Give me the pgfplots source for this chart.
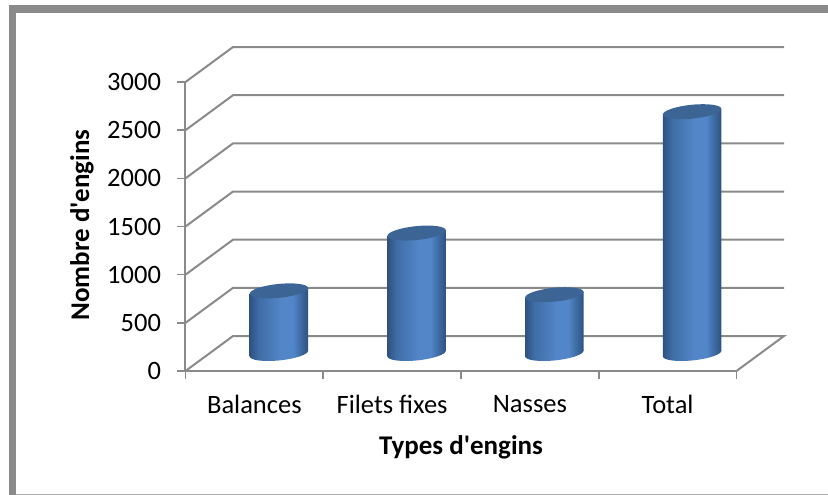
\documentclass[border=0pt]{standalone}
\usepackage{fontspec}
\setmainfont{Carlito}[Ligatures=TeXOff]
\usepackage{pgfplots}
\pgfplotsset{compat=1.18}
\definecolor{gridc}{HTML}{8A8A8A}
\definecolor{capc}{HTML}{3C6596}
\definecolor{cd}{HTML}{2E5280}
\definecolor{cm}{HTML}{5386C8}
\definecolor{cq}{HTML}{3F6DA6}
\pgfdeclarehorizontalshading{cyl}{100bp}{color(0bp)=(cd); color(25bp)=(cd); color(33bp)=(cq); color(52bp)=(cm); color(62bp)=(cm); color(68bp)=(cq); color(75bp)=(cd); color(100bp)=(cd)}
\pgfdeclareplotmark{cyltop}{\pgfpathellipse{\pgfpointorigin}{\pgfqpoint{29.2pt}{2.95pt}}{\pgfqpoint{-0.68pt}{6.9pt}}\pgfsetfillcolor{capc}\pgfusepathqfill}
\pgfdeclareplotmark{cylbot}{\pgfpathellipse{\pgfpointorigin}{\pgfqpoint{29.2pt}{2.95pt}}{\pgfqpoint{-0.68pt}{6.9pt}}\pgfshadepath{cyl}{0}\pgfusepath{discard}}
\tikzset{barshift/.style={shift={(24.5pt,{17.5pt-0.101*#1pt})},yslant=0.101}}
\begin{document}
\begin{tikzpicture}
\useasboundingbox (-185.5pt,-124pt) rectangle (642.5pt,371pt);
\fill[gridc] (-176.5pt,-124pt) rectangle (-169pt,365.5pt);
\fill[gridc] (-176.5pt,358pt) rectangle (642.5pt,365.5pt);
\draw[gridc!70,line width=0.8pt] (-169pt,-123pt) -- (642.5pt,-123pt);
\begin{axis}[
  at={(0pt,0pt)},anchor=south west,
  scale only axis,width=551pt,height=289pt,
  xmin=0,xmax=4,ymin=0,ymax=3000,
  clip=false,
  axis lines=left,
  axis line style={gridc,line width=2pt,-},
  xtick={0,1,2,3,4},
  x tick label as interval,
  xticklabels={Balances,Filets fixes,Nasses,Total},
  ytick={0,500,1000,1500,2000,2500,3000},
  tick align=outside,
  tick style={gridc,line width=1.6pt},
  major tick length=8pt,
  /pgf/number format/assume math mode=true,
  /pgf/number format/set thousands separator={},
  tick label style={font=\fontsize{26.5}{28}\selectfont,black},
  yticklabel style={xshift=-13pt},
  xticklabel style={yshift=-13pt},
  label style={font=\fontsize{27}{29}\selectfont\bfseries,black},
  xlabel={Types d'engins},
  ylabel={Nombre d'engins},
  xlabel style={at={(axis description cs:0.5,-0.263)},anchor=center},
  ylabel style={at={(axis description cs:-0.188,0.505)},anchor=center},
]
% floor and back wall
\addplot[gridc,line width=2pt] coordinates {(0,0) (0.345,363) (4.345,363) (4,0)};
\addplot[gridc,line width=2pt] coordinates {(0,500) (0.345,863) (4.345,863)};
\addplot[gridc,line width=2pt] coordinates {(0,1000) (0.345,1363) (4.345,1363)};
\addplot[gridc,line width=2pt] coordinates {(0,1500) (0.345,1863) (4.345,1863)};
\addplot[gridc,line width=2pt] coordinates {(0,2000) (0.345,2363) (4.345,2363)};
\addplot[gridc,line width=2pt] coordinates {(0,2500) (0.345,2863) (4.345,2863)};
\addplot[gridc,line width=2pt] coordinates {(0,3000) (0.345,3363) (4.345,3363)};
% cylinder bases
\addplot[only marks,mark=cylbot,mark options={draw=none},shift={(24.5pt,17.5pt)}] coordinates {(0.5,0) (1.5,0) (2.5,0) (3.5,0)};
% cylinder bodies
\addplot[ybar,bar width=58.4pt,draw=none,shade,shading=cyl,barshift=68.875] coordinates {(0.5,650)};
\addplot[ybar,bar width=58.4pt,draw=none,shade,shading=cyl,barshift=206.625] coordinates {(1.5,1250)};
\addplot[ybar,bar width=58.4pt,draw=none,shade,shading=cyl,barshift=344.375] coordinates {(2.5,610)};
\addplot[ybar,bar width=58.4pt,draw=none,shade,shading=cyl,barshift=482.125] coordinates {(3.5,2510)};
% cylinder tops
\addplot[only marks,mark=cyltop,mark options={draw=none},shift={(24.5pt,17.5pt)}] coordinates {(0.5,650) (1.5,1250) (2.5,610) (3.5,2510)};
\end{axis}
\end{tikzpicture}
\end{document}
